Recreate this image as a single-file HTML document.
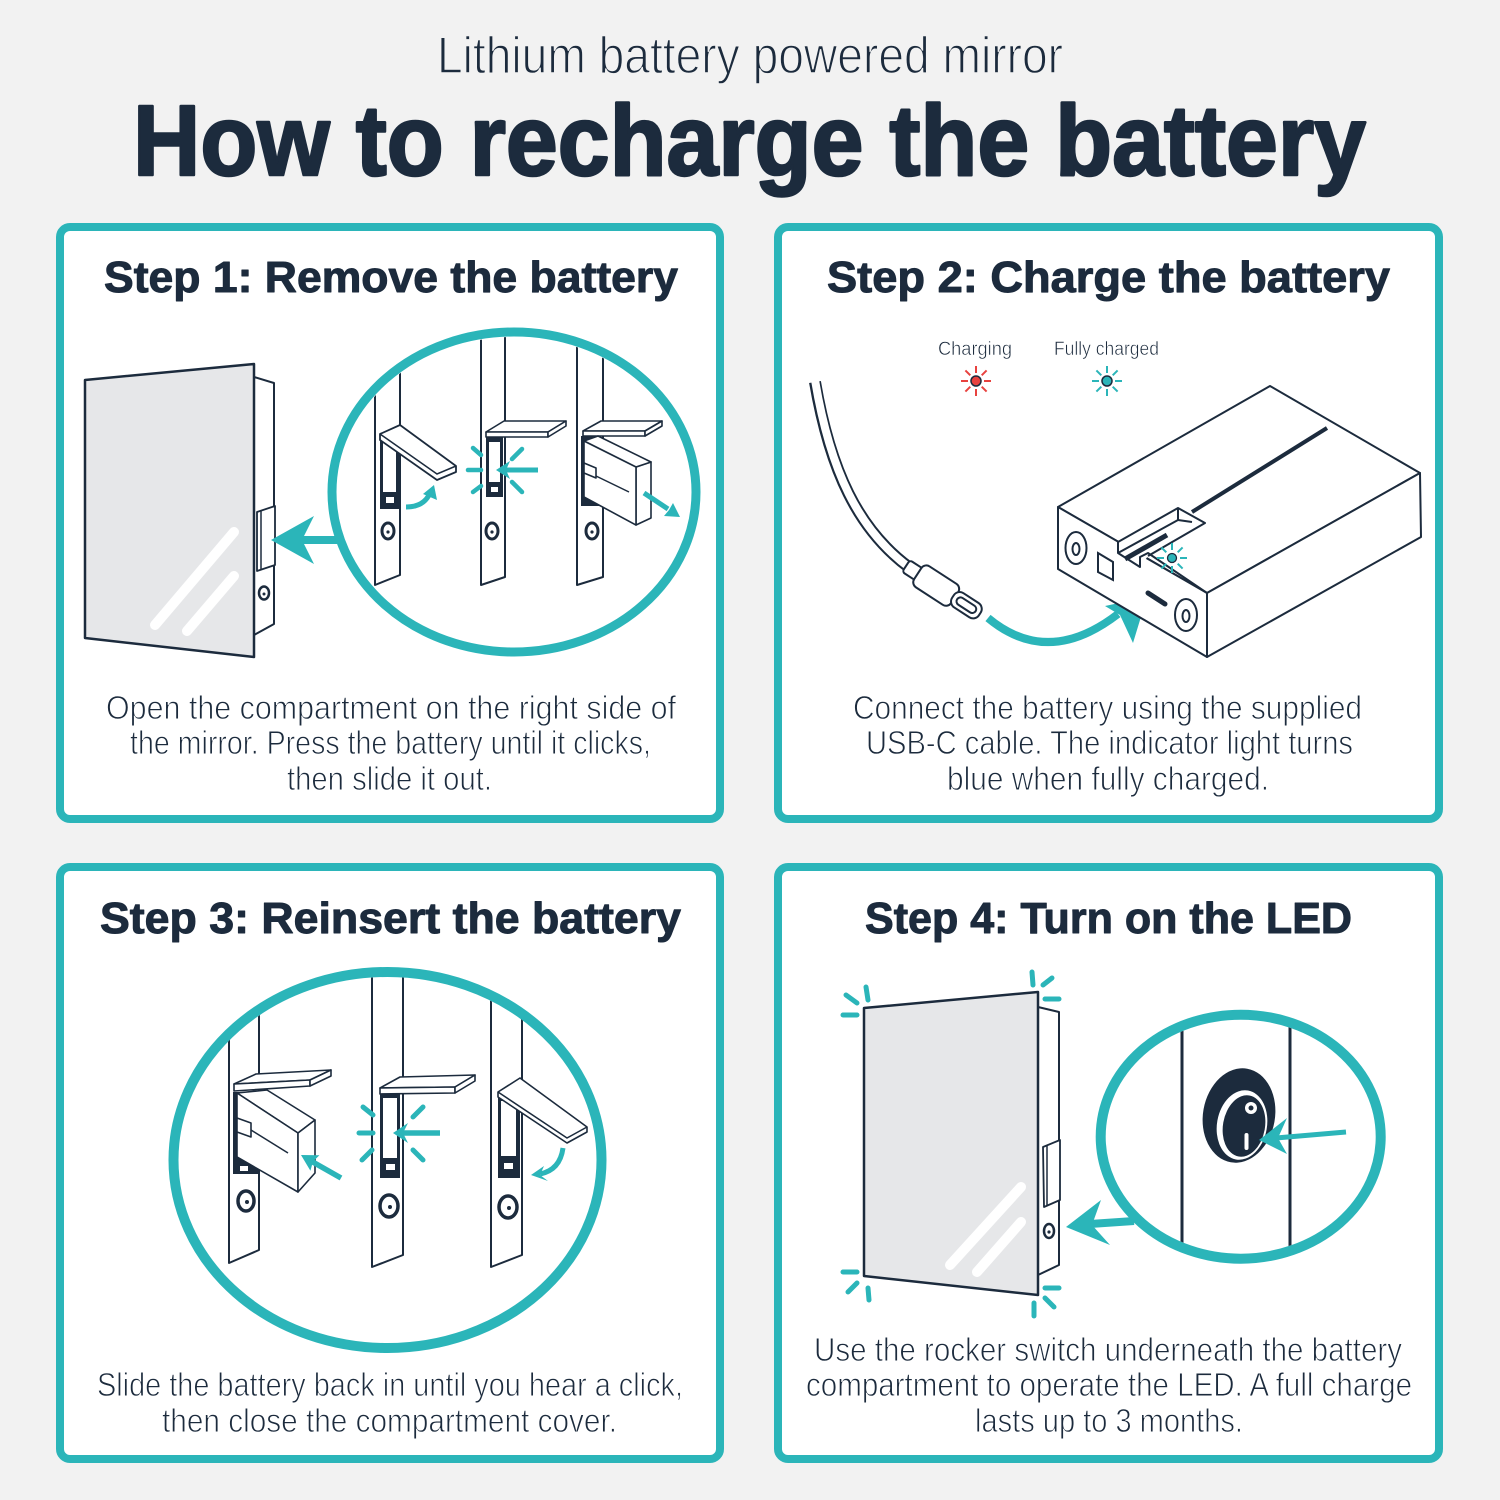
<!DOCTYPE html>
<html><head><meta charset="utf-8"><style>
html,body{margin:0;padding:0;background:#f2f2f2;}
svg{display:block}
</style></head><body>
<svg width="1500" height="1500" viewBox="0 0 1500 1500" xmlns="http://www.w3.org/2000/svg">
<defs>
 <clipPath id="c1"><ellipse cx="514" cy="492" rx="177" ry="155"/></clipPath>
 <clipPath id="c3"><ellipse cx="387.5" cy="1160" rx="209" ry="183"/></clipPath>
 <clipPath id="c4"><ellipse cx="1240.7" cy="1136.7" rx="135" ry="117"/></clipPath>
 <path id="rays" d="M8,0H15M-8,0H-15M0,8V15M0,-8V-15M5.7,5.7L10.6,10.6M-5.7,5.7L-10.6,10.6M5.7,-5.7L10.6,-10.6M-5.7,-5.7L-10.6,-10.6"/>
</defs>
<rect width="1500" height="1500" fill="#f2f2f2"/>

<!-- Titles -->
<text x="437" y="73" font-family="Liberation Sans, sans-serif" font-size="52" fill="#1c2b3d" stroke="#f2f2f2" stroke-width="1.4" textLength="626" lengthAdjust="spacingAndGlyphs">Lithium battery powered mirror</text>
<text x="133" y="175" font-family="Liberation Sans, sans-serif" font-weight="bold" font-size="100" fill="#1c2b3d" stroke="#1c2b3d" stroke-width="2.5" stroke-linejoin="round" textLength="1233" lengthAdjust="spacingAndGlyphs">How to recharge the battery</text>

<!-- Panels -->
<rect x="60" y="227" width="660" height="592" rx="10" fill="#fff" stroke="#2bb5b9" stroke-width="8"/>
<rect x="778" y="227" width="661" height="592" rx="10" fill="#fff" stroke="#2bb5b9" stroke-width="8"/>
<rect x="60" y="867" width="660" height="592" rx="10" fill="#fff" stroke="#2bb5b9" stroke-width="8"/>
<rect x="778" y="867" width="661" height="592" rx="10" fill="#fff" stroke="#2bb5b9" stroke-width="8"/>

<!-- Headings -->
<g font-family="Liberation Sans, sans-serif" font-weight="bold" font-size="44" fill="#1c2b3d" stroke="#1c2b3d" stroke-width="1" stroke-linejoin="round">
<text x="104" y="292" textLength="574" lengthAdjust="spacingAndGlyphs">Step 1: Remove the battery</text>
<text x="827" y="292" textLength="563" lengthAdjust="spacingAndGlyphs">Step 2: Charge the battery</text>
<text x="100" y="933" textLength="581" lengthAdjust="spacingAndGlyphs">Step 3: Reinsert the battery</text>
<text x="865" y="933" textLength="487" lengthAdjust="spacingAndGlyphs">Step 4: Turn on the LED</text>
</g>

<!-- Body text -->
<g font-family="Liberation Sans, sans-serif" font-size="33" fill="#1c2b3d" stroke="#fff" stroke-width="0.9">
<text x="106" y="719" textLength="570" lengthAdjust="spacingAndGlyphs">Open the compartment on the right side of</text>
<text x="130" y="754" textLength="521" lengthAdjust="spacingAndGlyphs">the mirror. Press the battery until it clicks,</text>
<text x="287" y="790" textLength="205" lengthAdjust="spacingAndGlyphs">then slide it out.</text>

<text x="853" y="719" textLength="509" lengthAdjust="spacingAndGlyphs">Connect the battery using the supplied</text>
<text x="866" y="754" textLength="487" lengthAdjust="spacingAndGlyphs">USB-C cable. The indicator light turns</text>
<text x="947" y="790" textLength="322" lengthAdjust="spacingAndGlyphs">blue when fully charged.</text>

<text x="97" y="1396" textLength="586" lengthAdjust="spacingAndGlyphs">Slide the battery back in until you hear a click,</text>
<text x="162" y="1432" textLength="455" lengthAdjust="spacingAndGlyphs">then close the compartment cover.</text>

<text x="814" y="1361" textLength="588" lengthAdjust="spacingAndGlyphs">Use the rocker switch underneath the battery</text>
<text x="806" y="1396" textLength="606" lengthAdjust="spacingAndGlyphs">compartment to operate the LED. A full charge</text>
<text x="975" y="1432" textLength="268" lengthAdjust="spacingAndGlyphs">lasts up to 3 months.</text>
</g>

<!-- ================= PANEL 1 ================= -->
<g stroke="#1c2b3d" stroke-linejoin="round">
 <polygon points="254,377 274,383 274,624 254,635" fill="#fff" stroke-width="2"/>
 <polygon points="85,380 254,364 254,657 85,638" fill="#e6e7e9" stroke-width="2.5"/>
 <polygon points="257,512 275,506 275,565 257,571" fill="#fff" stroke-width="1.8"/>
 <line x1="261" y1="511" x2="261" y2="570" stroke-width="1.5"/>
 <ellipse cx="264" cy="593" rx="5" ry="6.5" fill="#fff" stroke-width="2.5"/>
</g>
<circle cx="264" cy="594" r="1.5" fill="#1c2b3d"/>
<g stroke="#fff" stroke-width="10" stroke-linecap="round">
 <line x1="234" y1="532" x2="155" y2="625"/>
 <line x1="234" y1="576" x2="187" y2="631"/>
</g>
<line x1="340" y1="540" x2="300" y2="540" stroke="#2bb5b9" stroke-width="8"/>
<polygon points="271,540 314,516 302,540 314,564" fill="#2bb5b9"/>

<ellipse cx="514" cy="492" rx="182" ry="160" fill="#fff" stroke="#2bb5b9" stroke-width="9"/>
<g clip-path="url(#c1)">
 <g fill="none" stroke="#1c2b3d" stroke-width="2" stroke-linejoin="round">
  <path d="M375,300 V585 L400,575 V300"/>
  <path d="M481,300 V585 L505,577 V300"/>
  <path d="M577,300 V585 L603,577 V300"/>
 </g>
 <!-- strip 1 -->
 <rect x="380" y="434" width="20" height="75" fill="#1c2b3d"/>
 <rect x="383" y="441" width="13" height="51" fill="#fff"/>
 <rect x="386" y="497" width="8" height="6" fill="#fff"/>
 <polygon points="380,434 400,425 456,466 456,472 437,480 380,440" fill="#fff" stroke="#1c2b3d" stroke-width="1.8" stroke-linejoin="round"/>
 <polyline points="380,434 437,474 456,466" fill="none" stroke="#1c2b3d" stroke-width="1.5"/>
 <path d="M406,507 Q424,507 430,493" fill="none" stroke="#2bb5b9" stroke-width="5"/>
 <polygon points="434,485 437,500 423,494" fill="#2bb5b9"/>
 <ellipse cx="388" cy="531" rx="6" ry="8" fill="#fff" stroke="#1c2b3d" stroke-width="3"/>
 <circle cx="388" cy="532" r="1.6" fill="#1c2b3d"/>
 <!-- strip 2 -->
 <rect x="486" y="437" width="17" height="60" fill="#1c2b3d"/>
 <rect x="489" y="442" width="11" height="40" fill="#fff"/>
 <rect x="491" y="487" width="7" height="5" fill="#fff"/>
 <g fill="#fff" stroke="#1c2b3d" stroke-width="1.6" stroke-linejoin="round">
  <polygon points="486,432 504,421 566,421 548,432"/>
  <polygon points="486,432 548,432 548,437 486,437"/>
  <polygon points="548,432 566,421 566,426 548,437"/>
 </g>
 <g stroke="#2bb5b9" stroke-width="4.5" stroke-linecap="round">
  <line x1="468" y1="470" x2="481" y2="470"/>
  <line x1="473" y1="448" x2="481" y2="455"/>
  <line x1="473" y1="492" x2="481" y2="486"/>
  <line x1="512" y1="459" x2="522" y2="449"/>
  <line x1="512" y1="482" x2="522" y2="492"/>
  <line x1="538" y1="470" x2="506" y2="470" stroke-linecap="butt" stroke-width="5"/>
 </g>
 <polygon points="496,470 510,461 506,470 510,479" fill="#2bb5b9"/>
 <ellipse cx="492" cy="531" rx="6" ry="8" fill="#fff" stroke="#1c2b3d" stroke-width="3"/>
 <circle cx="492" cy="532" r="1.6" fill="#1c2b3d"/>
 <!-- strip 3 -->
 <rect x="581" y="436" width="20" height="70" fill="#1c2b3d"/>
 <g fill="#fff" stroke="#1c2b3d" stroke-width="1.6" stroke-linejoin="round">
  <polygon points="583,431 601,421 662,421 645,431"/>
  <polygon points="583,431 645,431 645,436 583,436"/>
  <polygon points="645,431 662,421 662,426 645,436"/>
  <polygon points="636,467 651,462 651,518 636,525"/>
  <polygon points="584,441 598,436 651,462 636,467"/>
  <polygon points="584,441 636,467 636,525 584,497"/>
  <polygon points="584,463 596,468 596,478 584,473"/>
 </g>
 <line x1="596" y1="476" x2="629" y2="492" stroke="#1c2b3d" stroke-width="1.5"/>
 <line x1="644" y1="493" x2="668" y2="509" stroke="#2bb5b9" stroke-width="5"/>
 <polygon points="680,517 664,516 669,510 673,503" fill="#2bb5b9"/>
 <ellipse cx="592" cy="531" rx="6" ry="8" fill="#fff" stroke="#1c2b3d" stroke-width="3"/>
 <circle cx="592" cy="532" r="1.6" fill="#1c2b3d"/>
</g>

<!-- ================= PANEL 2 ================= -->
<g font-family="Liberation Sans, sans-serif" font-size="19" fill="#1c2b3d" stroke="#fff" stroke-width="0.5">
 <text x="938" y="355" textLength="74" lengthAdjust="spacingAndGlyphs">Charging</text>
 <text x="1054" y="355" textLength="105" lengthAdjust="spacingAndGlyphs">Fully charged</text>
</g>
<use href="#rays" transform="translate(976,381)" stroke="#e8423f" stroke-width="2" fill="none"/>
<circle cx="976" cy="381" r="5" fill="#e8423f" stroke="#1c2b3d" stroke-width="1.5"/>
<use href="#rays" transform="translate(1107,381)" stroke="#2bb5b9" stroke-width="2" fill="none"/>
<circle cx="1107" cy="381" r="5" fill="#2bb5b9" stroke="#1c2b3d" stroke-width="1.5"/>

<path d="M815,382 C830,470 858,530 910,568" fill="none" stroke="#1c2b3d" stroke-width="12"/>
<path d="M815,380 C830,470 858,530 910,568" fill="none" stroke="#fff" stroke-width="8"/>
<g transform="translate(906,566) rotate(33)" fill="#fff" stroke="#1c2b3d" stroke-width="2">
 <rect x="0" y="-7" width="16" height="14" rx="3"/>
 <rect x="14" y="-12.5" width="44" height="25" rx="6"/>
 <rect x="56" y="-8.5" width="32" height="17" rx="7"/>
 <rect x="61" y="-4" width="22" height="8" rx="4"/>
</g>
<path d="M988,618 Q1048,668 1118,614" fill="none" stroke="#2bb5b9" stroke-width="8"/>
<polygon points="1147,597 1105,606 1120,615 1133,643" fill="#2bb5b9"/>

<g fill="#fff" stroke="#1c2b3d" stroke-width="2" stroke-linejoin="round">
 <polygon points="1058,507 1270,386 1420,473 1207,593"/>
 <polygon points="1058,507 1207,593 1207,657 1058,569"/>
 <polygon points="1207,593 1420,473 1421,537 1207,657"/>
</g>
<line x1="1192" y1="512" x2="1327" y2="428" stroke="#1c2b3d" stroke-width="4"/>
<polygon points="1118,542 1178,508 1205,523 1148,556 1140,567 1118,553" fill="#fff"/>
<g fill="none" stroke="#1c2b3d" stroke-width="2" stroke-linejoin="round">
 <path d="M1118,542 L1178,508 L1205,523 L1148,556"/>
 <path d="M1118,542 V553 L1178,520 V508"/>
 <path d="M1118,553 L1140,567 V557 L1148,553 L1207,593"/>
 <path d="M1178,520 L1192,522"/>
</g>
<line x1="1125" y1="559" x2="1167" y2="535" stroke="#1c2b3d" stroke-width="5"/>
<use href="#rays" transform="translate(1172,558)" stroke="#2bb5b9" stroke-width="2" fill="none"/>
<circle cx="1172" cy="558" r="4.5" fill="#2bb5b9" stroke="#1c2b3d" stroke-width="1.3"/>
<g fill="#fff" stroke="#1c2b3d" stroke-width="2">
 <ellipse cx="1076" cy="548" rx="10.5" ry="16"/>
 <ellipse cx="1076" cy="549" rx="3.5" ry="6"/>
 <polygon points="1098,553 1113,562 1113,580 1098,572"/>
 <ellipse cx="1186" cy="615" rx="11" ry="16"/>
 <ellipse cx="1186" cy="616" rx="3.5" ry="6"/>
</g>
<line x1="1148" y1="593" x2="1165" y2="604" stroke="#1c2b3d" stroke-width="5" stroke-linecap="round"/>

<!-- ================= PANEL 3 ================= -->
<ellipse cx="387.5" cy="1160" rx="214" ry="188" fill="#fff" stroke="#2bb5b9" stroke-width="10"/>
<g clip-path="url(#c3)">
 <g fill="none" stroke="#1c2b3d" stroke-width="2" stroke-linejoin="round">
  <path d="M229,950 V1263 L259,1250 V950"/>
  <path d="M372,950 V1267 L403,1255 V950"/>
  <path d="M491,950 V1267 L522,1255 V950"/>
 </g>
 <!-- strip 1 -->
 <rect x="233" y="1092" width="26" height="82" fill="#1c2b3d"/>
 <rect x="240" y="1166" width="8" height="5" fill="#fff"/>
 <g fill="#fff" stroke="#1c2b3d" stroke-width="1.6" stroke-linejoin="round">
  <polygon points="234,1084 256,1074 331,1070 310,1080"/>
  <polygon points="234,1084 310,1080 310,1086 234,1091"/>
  <polygon points="310,1080 331,1070 331,1076 310,1086"/>
  <polygon points="237,1093 267,1090 315,1120 298,1133"/>
  <polygon points="237,1093 298,1133 298,1192 237,1157"/>
  <polygon points="298,1133 315,1120 315,1173 298,1192"/>
  <polygon points="237,1118 251,1123 251,1137 237,1132"/>
 </g>
 <line x1="251" y1="1130" x2="288" y2="1153" stroke="#1c2b3d" stroke-width="1.5"/>
 <line x1="341" y1="1178" x2="311" y2="1161" stroke="#2bb5b9" stroke-width="5.5"/>
 <polygon points="301,1155 319.4,1155.2 313,1161.5 310.4,1170.8" fill="#2bb5b9"/>
 <ellipse cx="246" cy="1201" rx="8" ry="10" fill="#fff" stroke="#1c2b3d" stroke-width="3.5"/>
 <circle cx="247" cy="1202" r="2" fill="#1c2b3d"/>
 <!-- strip 2 -->
 <rect x="380" y="1093" width="20" height="85" fill="#1c2b3d"/>
 <rect x="383" y="1098" width="14" height="60" fill="#fff"/>
 <rect x="386" y="1164" width="9" height="6" fill="#fff"/>
 <g fill="#fff" stroke="#1c2b3d" stroke-width="1.6" stroke-linejoin="round">
  <polygon points="380,1088 400,1077 475,1075 455,1087"/>
  <polygon points="380,1088 455,1087 455,1093 380,1094"/>
  <polygon points="455,1087 475,1075 475,1081 455,1093"/>
 </g>
 <g stroke="#2bb5b9" stroke-width="5" stroke-linecap="round">
  <line x1="359" y1="1133" x2="373" y2="1133"/>
  <line x1="363" y1="1107" x2="373" y2="1115"/>
  <line x1="362" y1="1160" x2="372" y2="1150"/>
  <line x1="413" y1="1117" x2="423" y2="1107"/>
  <line x1="413" y1="1150" x2="423" y2="1160"/>
  <line x1="440" y1="1133" x2="402" y2="1133" stroke-linecap="butt" stroke-width="5.5"/>
 </g>
 <polygon points="393,1133 408,1123 403,1133 408,1143" fill="#2bb5b9"/>
 <ellipse cx="389" cy="1206" rx="9" ry="11" fill="#fff" stroke="#1c2b3d" stroke-width="3.5"/>
 <circle cx="390" cy="1207" r="2" fill="#1c2b3d"/>
 <!-- strip 3 -->
 <rect x="498" y="1096" width="22" height="82" fill="#1c2b3d"/>
 <rect x="501" y="1101" width="15" height="55" fill="#fff"/>
 <rect x="504" y="1163" width="9" height="6" fill="#fff"/>
 <polygon points="498,1092 520,1078 587,1127 587,1132 567,1143 498,1097" fill="#fff" stroke="#1c2b3d" stroke-width="1.6" stroke-linejoin="round"/>
 <polyline points="498,1092 567,1138 587,1127" fill="none" stroke="#1c2b3d" stroke-width="1.5"/>
 <path d="M563,1148 Q560,1170 540,1174" fill="none" stroke="#2bb5b9" stroke-width="5"/>
 <polygon points="531,1175 544,1166 540,1175 548,1181" fill="#2bb5b9"/>
 <ellipse cx="508" cy="1207" rx="9" ry="11" fill="#fff" stroke="#1c2b3d" stroke-width="3.5"/>
 <circle cx="509" cy="1208" r="2" fill="#1c2b3d"/>
</g>

<!-- ================= PANEL 4 ================= -->
<g stroke="#1c2b3d" stroke-linejoin="round">
 <polygon points="1038,1007 1059,1012 1059,1265 1038,1275" fill="#fff" stroke-width="2"/>
 <polygon points="864,1008 1038,992 1038,1295 864,1276" fill="#e6e7e9" stroke-width="2.5"/>
 <polygon points="1043,1147 1060,1140 1060,1200 1044,1207" fill="#fff" stroke-width="1.8"/>
 <line x1="1047" y1="1146" x2="1047" y2="1206" stroke-width="1.5"/>
 <ellipse cx="1049" cy="1231" rx="5" ry="7" fill="#fff" stroke-width="2.5"/>
</g>
<circle cx="1049" cy="1232" r="1.6" fill="#1c2b3d"/>
<g stroke="#fff" stroke-width="10" stroke-linecap="round">
 <line x1="1021" y1="1187" x2="950" y2="1265"/>
 <line x1="1021" y1="1222" x2="977" y2="1272"/>
</g>
<g stroke="#2bb5b9" stroke-width="5" stroke-linecap="round">
 <line x1="866" y1="987" x2="868" y2="1000"/>
 <line x1="846" y1="995" x2="857" y2="1003"/>
 <line x1="843" y1="1015" x2="857" y2="1015"/>
 <line x1="1032" y1="972" x2="1033" y2="985"/>
 <line x1="1043" y1="985" x2="1052" y2="978"/>
 <line x1="1045" y1="999" x2="1059" y2="999"/>
 <line x1="843" y1="1272" x2="857" y2="1272"/>
 <line x1="848" y1="1292" x2="857" y2="1283"/>
 <line x1="868" y1="1288" x2="869" y2="1300"/>
 <line x1="1045" y1="1288" x2="1059" y2="1288"/>
 <line x1="1045" y1="1298" x2="1054" y2="1307"/>
 <line x1="1034" y1="1303" x2="1034" y2="1316"/>
</g>
<line x1="1134" y1="1221" x2="1090" y2="1224" stroke="#2bb5b9" stroke-width="8"/>
<polygon points="1066,1227 1101,1200 1092,1225 1110,1245" fill="#2bb5b9"/>

<ellipse cx="1240.7" cy="1136.7" rx="140" ry="122" fill="#fff" stroke="#2bb5b9" stroke-width="10"/>
<g clip-path="url(#c4)">
 <line x1="1182" y1="1000" x2="1182" y2="1270" stroke="#1c2b3d" stroke-width="3"/>
 <line x1="1290" y1="1000" x2="1290" y2="1270" stroke="#1c2b3d" stroke-width="3"/>
 <ellipse cx="1239" cy="1115.5" rx="36" ry="47.5" fill="#1c2b3d" transform="rotate(10 1239 1115.5)"/>
 <ellipse cx="1242" cy="1125" rx="25" ry="35" fill="#fff" transform="rotate(10 1242 1125)"/>
 <ellipse cx="1244" cy="1126" rx="21" ry="31" fill="#1c2b3d" transform="rotate(10 1244 1126)"/>
 <circle cx="1251" cy="1108" r="6" fill="#fff"/>
 <circle cx="1251" cy="1108" r="2.5" fill="#1c2b3d"/>
 <line x1="1246.5" y1="1135" x2="1246.5" y2="1148" stroke="#fff" stroke-width="4" stroke-linecap="round"/>
 <line x1="1346" y1="1132" x2="1276" y2="1138" stroke="#2bb5b9" stroke-width="5"/>
 <polygon points="1259,1140 1287,1118 1278,1138 1287,1154" fill="#2bb5b9"/>
</g>
</svg>
</body></html>
